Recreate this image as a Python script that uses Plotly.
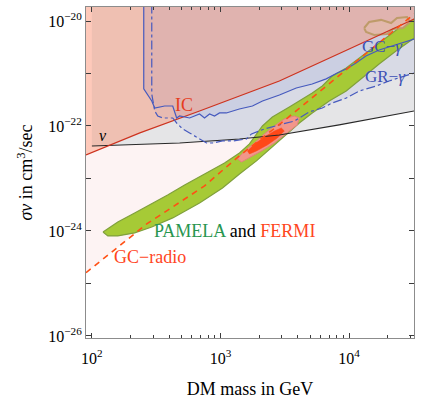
import plotly.graph_objects as go

# ---- bound curves: DM mass [GeV] vs <sigma v> [cm^3/s] ----
TOP = 1e-19  # closes exclusion regions above the frame

mass_ic = [90, 236, 687, 2865, 10000, 32000]
sv_ic = [2.8e-23, 7.4e-23, 1.93e-22, 7.2e-22, 2.93e-21, 1.09e-20]

mass_nu = [100, 481, 1404, 2865, 8360, 32000]
sv_nu = [4.16e-23, 4.74e-23, 5.65e-23, 6.74e-23, 1.05e-22, 1.93e-22]

mass_radio = [90, 267, 751, 1400, 2970, 32000]
sv_radio = [1.6e-25, 1.36e-24, 7.2e-24, 2.7e-23, 1.14e-22, 1.36e-20]

mass_gc = [253, 253, 292, 308, 368, 425, 456, 481, 575, 629, 687, 751, 822, 898,
           982, 1110, 1400, 1770, 2120, 2870, 3880, 5160, 6630, 8080, 9480,
           11300, 13500, 17100, 21500, 25800, 32000]
sv_gc = [TOP, 5.1e-22, 3.0e-22, 2.2e-22, 2.4e-22, 2.4e-22, 1.42e-22, 1.55e-22,
         1.42e-22, 1.55e-22, 1.69e-22, 1.42e-22, 1.69e-22, 1.55e-22, 1.77e-22,
         1.77e-22, 2.11e-22, 2.4e-22, 3.0e-22, 3.9e-22, 5.3e-22, 6.3e-22, 7.9e-22,
         1.02e-21, 1.22e-21, 1.58e-21, 2.16e-21, 2.81e-21, 3.34e-21, 3.81e-21, 4.54e-21]

mass_gr = [292, 292, 308, 325, 355, 425, 456, 508, 575, 687, 778, 867, 1037, 1240,
           1592, 1740, 2190, 2865, 3747, 4900, 6180, 7380, 9480, 11960, 16200,
           20400, 24400, 32000]
sv_gr = [TOP, 4.07e-22, 1.93e-22, 1.55e-22, 1.42e-22, 1.42e-22, 1.14e-22, 8.77e-23,
         7.36e-23, 5.65e-23, 4.74e-23, 4.74e-23, 5.18e-23, 5.18e-23, 5.65e-23,
         7.05e-23, 8.77e-23, 1.05e-22, 1.24e-22, 1.85e-22, 2.2e-22, 2.74e-22,
         3.41e-22, 4.64e-22, 5.78e-22, 7.2e-22, 8.2e-22, 1.02e-21]

# ---- PAMELA region (closed contour) ----
mass_pamela = [122, 138, 159, 215, 292, 388, 526, 751, 1074, 1404, 1678, 2117, 2529,
               3427, 4097, 5164, 6179, 7385, 9484, 11955, 16196, 20418, 24414, 32000,
               32000, 23130, 17085, 12615, 9484, 6999, 5164, 4097, 2865, 1902, 1404,
               1036, 687, 425, 292, 215, 159, 133]
sv_pamela = [9.57e-25, 1.19e-24, 1.48e-24, 2.2e-24, 3.27e-24, 4.85e-24, 7.52e-24,
             1.22e-23, 1.97e-23, 3.06e-23, 4.54e-23, 1.0e-22, 1.48e-22, 2.3e-22,
             2.99e-22, 4.25e-22, 5.78e-22, 8.96e-22, 1.27e-21, 1.97e-21, 3.49e-21,
             5.41e-21, 7.36e-21, 1.09e-20,
             4.74e-21, 2.68e-21, 1.52e-21, 8.2e-22, 4.64e-22, 2.99e-22, 1.77e-22,
             1.14e-22, 5.18e-23, 2.16e-23, 1.22e-23, 6.59e-24, 3.41e-24, 1.77e-24,
             1.19e-24, 9.16e-25, 8.04e-25, 8.04e-25]

# ---- PAMELA + FERMI fit contours ----
mass_fermi_out = [1354, 1535, 1835, 2193, 2622, 3133, 3746, 4097, 3952, 3305, 2622,
                  2081, 1678, 1455]
sv_fermi_out = [2.35e-23, 3.34e-23, 4.74e-23, 7.05e-23, 1.0e-22, 1.36e-22, 1.55e-22,
                1.42e-22, 1.05e-22, 7.36e-23, 4.74e-23, 3.34e-23, 2.46e-23, 2.06e-23]
mass_fermi_in = [1620, 1835, 2193, 2622, 2969, 3133, 2767, 2313, 1902, 1678]
sv_fermi_in = [3.34e-23, 4.54e-23, 6.17e-23, 8.04e-23, 9.16e-23, 8.04e-23, 5.91e-23,
               4.34e-23, 3.34e-23, 2.93e-23]
mass_fermi_hi = [13071, 14290, 17700, 21170, 23550, 28180, 29730, 26240, 21950,
                 19720, 15630, 13540]
sv_fermi_hi = [7.36e-21, 9.57e-21, 1.05e-20, 9.16e-21, 1.14e-20, 1.19e-20, 9.57e-21,
               7.36e-21, 7.05e-21, 5.65e-21, 5.41e-21, 6.17e-21]

x_ticks = [100, 1000, 10000]
x_ticktext = ["10<sup>2</sup>", "10<sup>3</sup>", "10<sup>4</sup>"]
x_minor = [m * d for d in (1, 10, 100) for m in range(200, 1000, 100)] + [20000, 30000]
y_ticks = [1e-20, 1e-21, 1e-22, 1e-23, 1e-24, 1e-25, 1e-26]
y_ticktext = ["10<sup>−20</sup>", "", "10<sup>−22</sup>", "", "10<sup>−24</sup>", "",
              "10<sup>−26</sup>"]

SERIF = "Liberation Serif"
X_LO, X_HI = 80, 40000

fig = go.Figure()


def region(xs, ys, color, close_left=None):
    """Filled area above a bound curve, closed through the top of the frame."""
    left = close_left if close_left is not None else xs[0]
    px = list(xs) + [X_HI, X_HI, left]
    py = list(ys) + [ys[-1], TOP, TOP]
    fig.add_trace(go.Scatter(x=px, y=py, mode="lines", fill="toself",
                             fillcolor=color, line=dict(width=0),
                             hoverinfo="skip", showlegend=False))


def blob(xs, ys, fill, line, width=1.0):
    fig.add_trace(go.Scatter(x=xs + xs[:1], y=ys + ys[:1], mode="lines",
                             fill="toself", fillcolor=fill,
                             line=dict(color=line, width=width),
                             hoverinfo="skip", showlegend=False))


def curve(xs, ys, color, width=1.2, dash="solid"):
    fig.add_trace(go.Scatter(x=xs, y=ys, mode="lines",
                             line=dict(color=color, width=width, dash=dash),
                             hoverinfo="skip", showlegend=False))


# exclusion regions, back to front
region([X_LO] + mass_radio, [sv_radio[0]] + sv_radio, "rgb(253,243,243)", close_left=X_LO)
region(mass_nu, sv_nu, "rgb(229,229,231)")
region(mass_gr, sv_gr, "rgb(216,218,229)")
region(mass_gc, sv_gc, "rgb(203,207,226)")
region([X_LO] + mass_ic, [sv_ic[0]] + sv_ic, "rgba(255,137,99,0.40)", close_left=X_LO)

# favoured regions
blob(mass_pamela, sv_pamela, "rgb(166,202,54)", "rgb(128,160,60)", 1.2)
blob(mass_fermi_out, sv_fermi_out, "rgb(242,150,138)", "rgb(225,130,125)", 1.0)
blob(mass_fermi_in, sv_fermi_in, "rgb(255,72,24)", "rgb(255,72,24)", 0.5)
blob(mass_fermi_hi, sv_fermi_hi, "rgb(226,184,172)", "rgb(190,155,105)", 2.0)

# bound lines
curve(mass_nu, sv_nu, "rgb(40,40,40)", 1.1)
curve(mass_ic, sv_ic, "rgb(205,50,30)", 1.2)
curve(mass_gc, sv_gc, "rgb(70,90,190)", 1.2)
curve(mass_gr, sv_gr, "rgb(70,90,190)", 1.2, "dashdot")
curve(mass_radio, sv_radio, "rgb(255,80,20)", 1.6, "6px,5px")

labels = [
    (2.713, -21.60, "IC", "rgb(230,60,30)", 18),
    (4.256, -20.495, "GC−<i>γ</i>", "rgb(60,80,180)", 17),
    (4.279, -21.048, "GR−<i>γ</i>", "rgb(60,80,180)", 17),
    (2.085, -22.19, "<i>ν</i>", "black", 16),
    (3.109, -24.00, "<span style='color:rgb(40,150,80)'>PAMELA</span> and "
                    "<span style='color:rgb(255,70,30)'>FERMI</span>", "black", 18),
    (2.45, -24.495, "GC−radio", "rgb(255,70,30)", 18),
]
for lx, ly, txt, col, size in labels:
    fig.add_annotation(x=lx, y=ly, xref="x", yref="y", text=txt, showarrow=False,
                       font=dict(family=SERIF, size=size, color=col))

axis_common = dict(
    type="log", showgrid=False, zeroline=False, showline=True, linecolor="rgb(140,140,140)",
    linewidth=1, mirror="allticks", ticks="inside", ticklen=5, tickcolor="rgb(60,60,60)",
    tickfont=dict(family=SERIF, size=16, color="black"),
)
fig.update_xaxes(**axis_common, range=[1.9542, 4.504], tickvals=x_ticks, ticktext=x_ticktext,
                 ticklabelstandoff=6,
                 minor=dict(tickvals=x_minor, ticks="inside", ticklen=3,
                            tickcolor="rgb(60,60,60)"),
                 title=dict(text="DM mass in GeV",
                            font=dict(family=SERIF, size=18, color="black"),
                            standoff=16))
fig.update_yaxes(**axis_common, range=[-26.04, -19.733], tickvals=y_ticks,
                 ticktext=y_ticktext,
                 title=dict(text="<i>σv</i> in cm<sup>3</sup>/sec",
                            font=dict(family=SERIF, size=18, color="black"), standoff=10))

fig.update_layout(width=421, height=402, margin=dict(l=86, r=6, t=6, b=60),
                  paper_bgcolor="white", plot_bgcolor="white", showlegend=False,
                  font=dict(family=SERIF, color="black"))

fig.write_html("out.html")
